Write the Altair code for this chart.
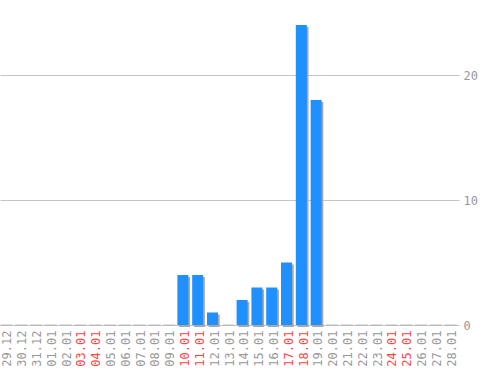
import altair as alt
import pandas as pd

dates = ["29.12", "30.12", "31.12", "01.01", "02.01", "03.01", "04.01", "05.01",
         "06.01", "07.01", "08.01", "09.01", "10.01", "11.01", "12.01", "13.01",
         "14.01", "15.01", "16.01", "17.01", "18.01", "19.01", "20.01", "21.01",
         "22.01", "23.01", "24.01", "25.01", "26.01", "27.01", "28.01"]
values = [0, 0, 0, 0, 0, 0, 0, 0, 0, 0, 0, 0, 4, 4, 1, 0,
          2, 3, 3, 5, 24, 18, 0, 0, 0, 0, 0, 0, 0, 0, 0]
weekends = ["03.01", "04.01", "10.01", "11.01", "17.01", "18.01", "24.01", "25.01"]
y_ticks = [0, 10, 20]

df = pd.DataFrame({"date": dates, "value": values})

wk = ",".join("'" + w + "'" for w in weekends)
label_color = f"indexof([{wk}], datum.value) >= 0 ? '#ff4444' : '#999999'"

font = "DejaVu Sans Mono"

x = alt.X("date:N", sort=dates, title=None,
          scale=alt.Scale(domain=dates, paddingInner=0, paddingOuter=0),
          axis=alt.Axis(labelAngle=270, labelFont=font, labelFontSize=12,
                        labelColor=alt.expr(label_color), ticks=False, domain=False,
                        labelPadding=5, grid=False))
y = alt.Y("value:Q", title=None, scale=alt.Scale(domain=[0, 26], nice=False),
          axis=alt.Axis(orient="right", values=y_ticks, labelFont=font, labelFontSize=12,
                        labelColor="#999999", ticks=False, domain=False, labelPadding=4,
                        grid=True, gridColor="#c4c4c4", gridWidth=1))

base = alt.Chart(df)

baseline = base.transform_calculate(value="0").mark_tick(
    orient="horizontal", size=12, thickness=1, xOffset=-1, color="#a6a6a6"
).encode(x=x, y=y)

shadow = base.transform_filter("datum.value > 0").mark_bar(
    width=11, xOffset=-0.5, yOffset=2, color="#a8a8a8"
).encode(x=x, y=y)

bars = base.transform_filter("datum.value > 0").mark_bar(
    width=11, xOffset=-2.2, color="#1e90ff"
).encode(x=x, y=y)

chart = alt.layer(baseline, shadow, bars).properties(
    width=459, height=325, autosize="none", background="white",
    padding={"left": 0, "top": 0, "right": 39, "bottom": 45}
).configure_view(stroke=None)

chart.save("out.html", embed_options={"renderer": "svg", "actions": False})
